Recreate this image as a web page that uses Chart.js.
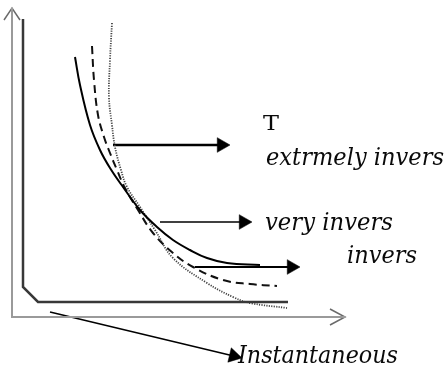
<!DOCTYPE html>
<html>
<head>
<meta charset="utf-8">
<script src="https://cdn.jsdelivr.net/npm/chart.js@4.4.1/dist/chart.umd.min.js"></script>
<style>
  html, body { margin: 0; padding: 0; background: #fff; }
  canvas { display: block; }
</style>
</head>
<body>
<canvas id="curves" width="444" height="369"></canvas>
<script>
// --- DATA (current multiple I, operating time T) ---
// inverse (solid)
const inverseI = [5.2, 5.7, 6.7, 7.7, 8.7, 10.0, 11.7, 13.4, 15.0, 16.7, 18.4, 20.4, 23.7];
const inverseT = [24.5, 21.7, 17.7, 15.2, 13.4, 11.5, 9.2, 7.5, 6.2, 5.2, 4.4, 3.9, 3.7];
// very inverse (dashed)
const veryI = [6.9, 7.1, 7.5, 8.1, 8.7, 9.4, 10.2, 11.5, 13.0, 15.0, 17.0, 20.0, 22.7, 25.4];
const veryT = [25.6, 22.2, 18.7, 16.5, 14.9, 13.2, 11.4, 9.2, 6.9, 4.9, 3.5, 2.2, 1.8, 1.6];
// extremely inverse (dotted)
const extremeI = [8.9, 8.7, 8.6, 8.9, 9.2, 9.8, 10.4, 11.7, 13.2, 15.0, 18.4, 21.0, 22.7, 26.4];
const extremeT = [27.9, 24.2, 20.4, 17.7, 15.5, 13.2, 11.5, 9.5, 7.2, 4.4, 1.9, 0.5, -0.1, -0.6];
// instantaneous characteristic (thick corner line)
const instantI = [0, 0, 1.5, 26.5];
const instantT = [28.3, 1.5, 0, 0];
// outer axes and their open arrowheads
const axisI = [-1.1, -1.1, 32.2];
const axisT = [29.4, -1.5, -1.5];
const upTipI = [-1.9, -1.1, -0.3];
const upTipT = [28.2, 29.4, 28.2];
const rightTipI = [30.7, 32.2, 30.7];
const rightTipT = [-0.7, -1.5, -2.3];
// pointer arrows: tail and head centre
const arrowTailI = [9.0, 13.7, 17.2, 2.7];
const arrowTailT = [15.7, 8.0, 3.5, -1.0];
const arrowHeadI = [19.85, 22.05, 26.85, 21.07];
const arrowHeadT = [15.7, 8.0, 3.5, -5.4];
const arrowAngle = [90, 90, 90, 103.5];
const arrowWidth = [2.5, 1.5, 2, 1.5];

const pts = (xs, ys) => xs.map((v, i) => ({ x: v, y: ys[i] }));

// --- LABELS ---
const labels = [
  { text: 'T', i: 24.0, t: 17.2, font: '20px "DejaVu Serif"', width: 16 },
  { text: 'extrmely invers', i: 24.3, t: 13.7, font: 'italic 25px "DejaVu Serif"', width: 178 },
  { text: 'very invers', i: 24.2, t: 7.2, font: 'italic 25px "DejaVu Serif"', width: 128 },
  { text: 'invers', i: 32.4, t: 3.9, font: 'italic 25px "DejaVu Serif"', width: 70 },
  { text: 'Instantaneous', i: 21.5, t: -6.1, font: 'italic 25px "DejaVu Serif"', width: 160 },
  // bottom of the caption line above the figure
  { text: 'g', i: -2.6, t: 30.8, font: '25px "DejaVu Serif"' },
  { text: 'p', i: 13.2, t: 30.7, font: '25px "DejaVu Serif"' },
  { text: '[3]', i: 23.1, t: 30.7, font: '25px "DejaVu Serif"', width: 33 }
];

const labelPlugin = {
  id: 'labels',
  afterDatasetsDraw(chart) {
    const { ctx, scales: { x, y } } = chart;
    labels.forEach(l => {
      ctx.save();
      ctx.font = l.font;
      ctx.fillStyle = '#0a0a0a';
      ctx.textBaseline = 'alphabetic';
      const w = ctx.measureText(l.text).width;
      ctx.translate(x.getPixelForValue(l.i), y.getPixelForValue(l.t));
      ctx.scale(l.width ? l.width / w : 1, 1);
      ctx.fillText(l.text, 0, 0);
      ctx.restore();
    });
  }
};

// --- DATASETS ---
const plain = (data, color, width, extra) => Object.assign({
  data, showLine: true, borderColor: color, borderWidth: width,
  pointRadius: 0, tension: 0, fill: false
}, extra || {});

const datasets = [
  plain(pts(axisI, axisT), '#9a9a9a', 2),
  plain(pts(upTipI, upTipT), '#6a6a6a', 1.5),
  plain(pts(rightTipI, rightTipT), '#6a6a6a', 1.5),
  plain(pts(instantI, instantT), '#383838', 2.5),
  plain(pts(inverseI, inverseT), '#000', 2, { tension: 0.4 }),
  plain(pts(veryI, veryT), '#111', 2, { tension: 0.4, borderDash: [8, 5] }),
  plain(pts(extremeI, extremeT), '#444', 1.8, { tension: 0.4, borderDash: [1.2, 1.3] })
];

arrowTailI.forEach((v, k) => {
  datasets.push(plain(pts([v, arrowHeadI[k]], [arrowTailT[k], arrowHeadT[k]]), '#000', arrowWidth[k], {
    pointRadius: [0, 8.5],
    pointStyle: 'triangle',
    rotation: arrowAngle[k],
    pointBackgroundColor: '#000',
    pointBorderColor: '#000',
    pointBorderWidth: 0.5
  }));
});

new Chart(document.getElementById('curves'), {
  type: 'scatter',
  data: { datasets },
  options: {
    responsive: false,
    animation: false,
    devicePixelRatio: 1,
    layout: { padding: 0, autoPadding: false },
    plugins: { legend: { display: false }, tooltip: { enabled: false } },
    scales: {
      x: { type: 'linear', display: false, min: -2.3, max: 42.1 },
      y: { type: 'linear', display: false, min: -6.7, max: 30.2 }
    }
  },
  plugins: [labelPlugin]
});
</script>
</body>
</html>
